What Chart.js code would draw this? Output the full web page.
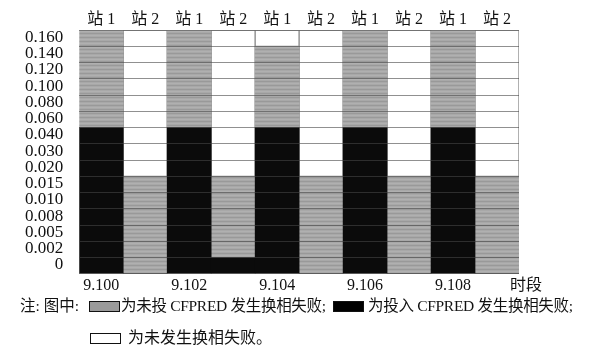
<!DOCTYPE html>
<html>
<head>
<meta charset="utf-8">
<script src="https://cdn.jsdelivr.net/npm/chart.js@4/dist/chart.umd.min.js"></script>
<style>
  html,body{margin:0;padding:0;background:#fff;}
  #wrap{position:relative;width:594px;height:352px;overflow:hidden;}
  canvas{position:absolute;left:0;top:0;}
  .note{position:absolute;font-family:'Liberation Serif','Noto Sans CJK SC',serif;font-size:15.5px;color:#111;white-space:nowrap;line-height:18px;}
  .box{position:absolute;width:29px;height:9px;border:1px solid #111;}
</style>
</head>
<body>
<div id="wrap">
  <canvas id="c" width="594" height="352"></canvas>
  <div class="note" style="left:20px;top:297px;">注: 图中:</div>
  <div class="box" style="left:89px;top:301px;background:#9a9a9a;"></div>
  <div class="note" style="left:121px;top:297px;letter-spacing:-0.3px;">为未投 CFPRED 发生换相失败;</div>
  <div class="box" style="left:333px;top:301px;background:#000;"></div>
  <div class="note" style="left:368px;top:297px;letter-spacing:-0.3px;">为投入 CFPRED 发生换相失败;</div>
  <div class="box" style="left:90px;top:333px;background:#fff;border-width:1.5px;"></div>
  <div class="note" style="left:128px;top:329px;font-size:16px;">为未发生换相失败。</div>
</div>
<script>
// Station of each column (top axis)
const stations = ['站 1','站 2','站 1','站 2','站 1','站 2','站 1','站 2','站 1','站 2'];
// Time-period labels (bottom axis)
const periods = ['9.100','','9.102','','9.104','','9.106','','9.108',''];
// Y tick labels (evenly spaced levels, bottom to top)
const yLabels = ['0','0.002','0.005','0.008','0.010','0.015','0.020','0.030','0.040','0.060','0.080','0.100','0.120','0.140','0.160'];
// Segment heights, in level units (stacked bottom to top)
const withCFPRED = [9,0,9,1,9,0,9,0,9,0];     // 投入 CFPRED 发生换相失败 (black)
const withoutCFPRED = [6,6,6,5,5,6,6,6,6,6];  // 未投 CFPRED 发生换相失败 (gray)
const noFailure = [0,9,0,9,1,9,0,9,0,9];      // 未发生换相失败 (white)
const levelCount = 15;

const FONT = "'Liberation Serif','Noto Sans CJK SC',serif";

// light horizontal texture for the gray fill
function grayPattern(){
  const p = document.createElement('canvas');
  p.width = 4; p.height = 4;
  const g = p.getContext('2d');
  g.fillStyle = '#a8a8a8'; g.fillRect(0,0,4,4);
  g.fillStyle = '#999999'; g.fillRect(0,1,4,1);
  g.fillStyle = '#b0b0b0'; g.fillRect(0,3,4,1);
  return g.createPattern(p,'repeat');
}

const periodTitle = {
  id:'periodTitle',
  afterDraw(chart){
    const {ctx, chartArea} = chart;
    ctx.save();
    ctx.font = "16px " + FONT;
    ctx.fillStyle = '#111';
    ctx.textAlign = 'left';
    ctx.textBaseline = 'middle';
    ctx.fillText('时段', chartArea.right - 9, chartArea.bottom + 12);
    ctx.restore();
  }
};

new Chart(document.getElementById('c'), {
  type:'bar',
  data:{
    labels: stations,
    datasets:[
      {label:'投入 CFPRED 发生换相失败', data:withCFPRED, backgroundColor:'#0b0b0b', borderWidth:0},
      {label:'未投 CFPRED 发生换相失败', data:withoutCFPRED, backgroundColor:grayPattern(), borderWidth:0},
      {label:'未发生换相失败', data:noFailure, backgroundColor:'#ffffff', borderColor:'#8a8a8a', borderWidth:1, borderSkipped:false}
    ]
  },
  options:{
    responsive:false,
    animation:false,
    layout:{padding:{left:9, right:75, top:9, bottom:55}},
    datasets:{bar:{barPercentage:1, categoryPercentage:1}},
    plugins:{legend:{display:false}, tooltip:{enabled:false}},
    scales:{
      x:{
        stacked:true,
        position:'bottom',
        grid:{display:false, drawTicks:false},
        border:{display:false},
        ticks:{
          color:'#111', font:{family:FONT, size:16}, padding:2, maxRotation:0, autoSkip:false,
          callback:(v,i)=>periods[i]
        }
      },
      xt:{
        type:'category',
        labels: stations,
        position:'top',
        grid:{display:false, drawTicks:false},
        border:{display:false},
        ticks:{color:'#111', font:{family:FONT, size:16}, padding:1, maxRotation:0, autoSkip:false}
      },
      y:{
        stacked:true,
        min:0, max:levelCount,
        position:'left',
        grid:{color:'rgba(70,70,70,0.6)', lineWidth:1, drawTicks:false, z:1},
        border:{display:false},
        ticks:{
          stepSize:1, autoSkip:false, color:'#111', font:{family:FONT, size:17}, padding:16,
          labelOffset:-9,
          callback:(v)=> (v>=0 && v<yLabels.length) ? yLabels[v] : ''
        }
      }
    }
  },
  plugins:[periodTitle]
});
</script>
</body>
</html>
